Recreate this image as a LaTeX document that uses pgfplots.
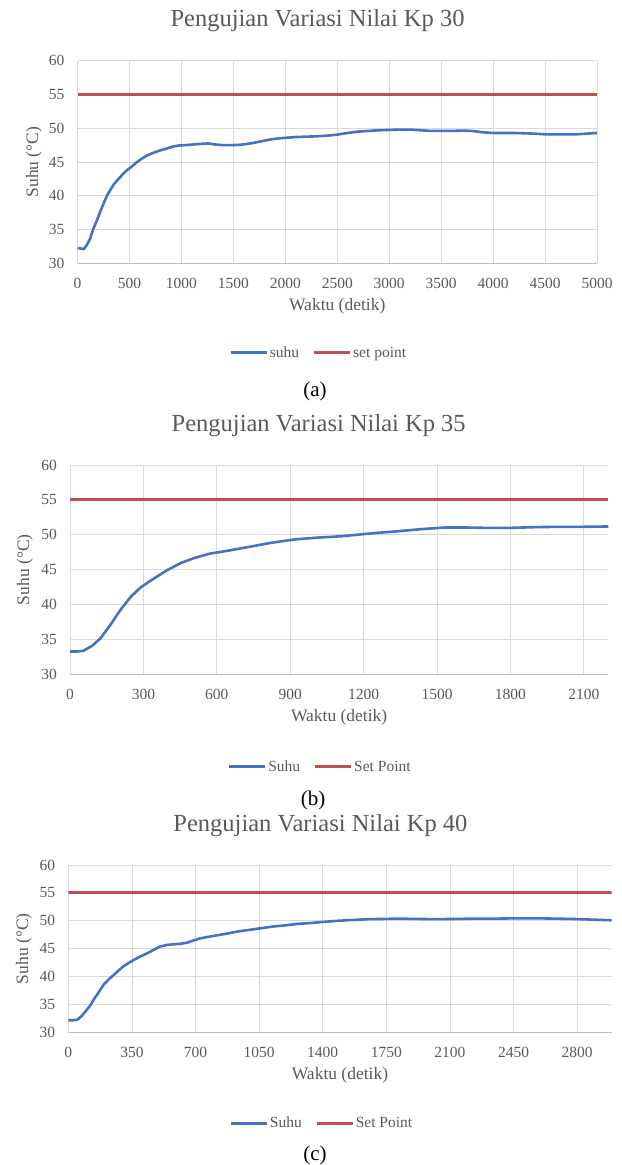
\documentclass[border=0pt]{standalone}
\usepackage{fontspec}
\setmainfont{Liberation Serif}
\usepackage{pgfplots}
\pgfplotsset{compat=1.18}
\definecolor{sblue}{RGB}{68,114,196}
\definecolor{sred}{RGB}{192,80,77}
\definecolor{textgray}{RGB}{89,89,89}
\definecolor{gridgray}{RGB}{217,217,217}
\definecolor{axisgray}{RGB}{191,191,191}
\newcommand\tickfont{\fontsize{15.5bp}{18bp}\selectfont}
\newcommand\labfont{\fontsize{17.5bp}{20bp}\selectfont}
\newcommand\titfont{\fontsize{24.5bp}{28bp}\selectfont}
\newcommand\capfont{\fontsize{21bp}{24bp}\selectfont}

\pgfplotsset{
  kpstyle/.style={
    scale only axis,
    ymin=30, ymax=60, ytick={30,35,...,60},
    /pgf/number format/assume math mode=true,
    /pgf/number format/1000 sep={},
    tick label style={font=\tickfont, text=textgray},
    yticklabel style={anchor=east, inner sep=0pt, xshift=-13bp},
    xticklabel style={anchor=base, inner sep=0pt, yshift=-25bp},
    major tick length=0pt,
    grid=major,
    major grid style={draw=gridgray, line width=0.75bp},
    axis lines*=left,
    axis line style={draw=gridgray, line width=0.75bp, -},
    x axis line style={draw=axisgray},
    title style={font=\titfont, text=textgray, anchor=base, yshift=28bp},
    xlabel style={font=\labfont, text=textgray, at={(axis description cs:0.5,0)}, anchor=center, yshift=-43bp},
    ylabel style={font=\labfont, text=textgray, anchor=center},
    legend columns=2,
    legend style={draw=none, fill=none, inner sep=0pt,
      font=\tickfont, text=textgray,
      nodes={inner sep=1.5bp},
      /tikz/every even column/.append style={column sep=12bp}},
    legend image code/.code={\draw[#1, line width=3bp] (0bp,0bp) -- (36bp,0bp);},
  },
  suhu/.style={color=sblue, line width=2.6bp, line join=round},
  sp/.style={color=sred, line width=3bp},
}

\begin{document}
\begin{tikzpicture}
\useasboundingbox (0,0) rectangle (622bp,-1165bp);

% ---------------- (a) ----------------
\begin{axis}[kpstyle,
  at={(77.5bp,-263.3bp)}, anchor=south west,
  width=519.5bp, height=202.6bp,
  xmin=0, xmax=5000, xtick={0,500,...,5000},
  title={Pengujian Variasi Nilai Kp 30},
  title style={at={(axis description cs:0.462,1)}},
  xlabel={Waktu (detik)},
  ylabel={Suhu (°C)},
  ylabel style={at={(axis description cs:-0.0837,0.5)}},
  legend style={at={(axis description cs:0.464,0)}, anchor=center, yshift=-89.4bp},
]
\addplot[suhu] coordinates {
(0,32.2) (30,32.2) (60,32.1) (90,32.7) (120,33.6) (150,35.0) (185,36.3) (220,37.7)
(250,38.8) (280,39.9) (310,40.7) (350,41.7) (390,42.4) (430,43.1) (470,43.7) (520,44.3)
(565,44.9) (610,45.4) (660,45.9) (720,46.3) (790,46.7) (860,47.0) (920,47.3) (980,47.45)
(1040,47.5) (1120,47.6) (1200,47.7) (1260,47.75) (1320,47.6) (1400,47.5) (1480,47.5)
(1560,47.55) (1620,47.65) (1700,47.85) (1780,48.1) (1860,48.35) (1940,48.5) (2020,48.6)
(2100,48.7) (2200,48.75) (2300,48.8) (2400,48.9) (2500,49.05) (2600,49.3) (2700,49.5)
(2800,49.6) (2900,49.7) (3000,49.75) (3100,49.8) (3200,49.8) (3300,49.7) (3400,49.6)
(3500,49.6) (3600,49.6) (3700,49.65) (3800,49.6) (3900,49.4) (4000,49.3) (4100,49.3)
(4200,49.3) (4300,49.25) (4400,49.2) (4500,49.1) (4600,49.1) (4700,49.1) (4800,49.1)
(4900,49.2) (5000,49.3)
};
\addlegendentry{suhu}
\addplot[sp] coordinates {(0,55) (5000,55)};
\addlegendentry{set point}
\end{axis}

% ---------------- (b) ----------------
\begin{axis}[kpstyle,
  at={(70bp,-674.5bp)}, anchor=south west,
  width=538.3bp, height=209.5bp,
  xmin=0, xmax=2200, xtick={0,300,...,2100},
  title={Pengujian Variasi Nilai Kp 35},
  title style={at={(axis description cs:0.462,1)}},
  xlabel={Waktu (detik)},
  ylabel={Suhu (°C)},
  ylabel style={at={(axis description cs:-0.0836,0.5)}},
  legend style={at={(axis description cs:0.4644,0)}, anchor=center, yshift=-92.2bp},
]
\addplot[suhu] coordinates {
(0,33.3) (30,33.3) (55,33.4) (90,34.1) (125,35.2) (165,37.1) (205,39.2) (250,41.2)
(290,42.5) (345,43.8) (400,45.0) (455,46.0) (510,46.7) (570,47.3) (640,47.7) (720,48.2)
(820,48.85) (920,49.35) (1010,49.6) (1110,49.8) (1200,50.1) (1260,50.3) (1320,50.45)
(1430,50.8) (1530,51.05) (1620,51.05) (1700,51.0) (1800,51.0) (1900,51.1) (2000,51.15)
(2100,51.15) (2200,51.2)
};
\addlegendentry{Suhu}
\addplot[sp] coordinates {(0,55) (2200,55)};
\addlegendentry{Set Point}
\end{axis}

% ---------------- (c) ----------------
\begin{axis}[kpstyle,
  at={(68.3bp,-1032.5bp)}, anchor=south west,
  width=543.4bp, height=167.5bp,
  xmin=0, xmax=2990, xtick={0,350,...,2800},
  title={Pengujian Variasi Nilai Kp 40},
  title style={at={(axis description cs:0.464,1)}},
  xlabel={Waktu (detik)},
  ylabel={Suhu (°C)},
  ylabel style={at={(axis description cs:-0.0815,0.5)}},
  legend style={at={(axis description cs:0.466,0)}, anchor=center, yshift=-90.5bp},
]
\addplot[suhu] coordinates {
(0,32.2) (25,32.2) (50,32.3) (75,33.0) (95,33.8) (120,34.8) (140,35.9) (165,37.1)
(195,38.6) (225,39.6) (250,40.3) (280,41.2) (305,41.9) (335,42.5) (360,43.0) (395,43.6)
(435,44.2) (470,44.8) (505,45.4) (545,45.7) (580,45.8) (620,45.9) (655,46.1) (690,46.5)
(730,46.9) (800,47.3) (870,47.7) (934,48.1) (1000,48.4) (1065,48.7) (1130,49.0)
(1196,49.2) (1260,49.45) (1327,49.6) (1400,49.8) (1480,50.0) (1560,50.15) (1654,50.3)
(1750,50.35) (1807,50.4) (1900,50.35) (2025,50.3) (2150,50.35) (2243,50.4) (2350,50.4)
(2462,50.45) (2580,50.45) (2680,50.4) (2760,50.35) (2811,50.3) (2900,50.2) (2990,50.1)
};
\addlegendentry{Suhu}
\addplot[sp] coordinates {(0,55) (2990,55)};
\addlegendentry{Set Point}
\end{axis}

\node[font=\capfont, anchor=center] at (315bp,-391.7bp) {(a)};
\node[font=\capfont, anchor=center] at (313bp,-800bp) {(b)};
\node[font=\capfont, anchor=center] at (315bp,-1155bp) {(c)};
\end{tikzpicture}
\end{document}
